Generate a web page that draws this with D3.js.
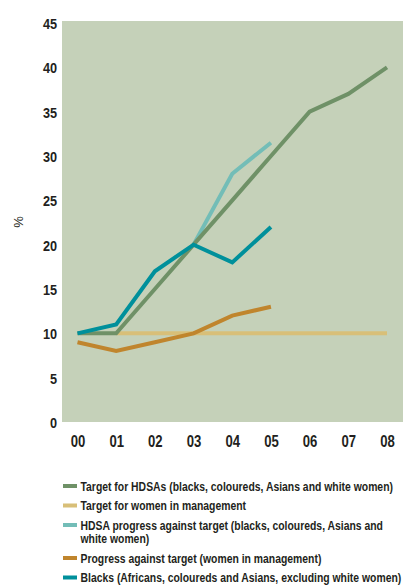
<!DOCTYPE html>
<html>
<head>
<meta charset="utf-8">
<script src="https://cdn.jsdelivr.net/npm/d3@7"></script>
<style>
  html, body { margin: 0; padding: 0; background: #fff; }
  svg text { font-family: "Liberation Sans", Arial, sans-serif; font-weight: bold; fill: #231f20; }
</style>
</head>
<body>
<svg id="chart" width="406" height="585"></svg>
<script>
// Years on the x axis
const years = ["00", "01", "02", "03", "04", "05", "06", "07", "08"];
const yTicks = [0, 5, 10, 15, 20, 25, 30, 35, 40, 45];

// Series values (%), null where a series has no value
const targetHDSA    = [10, 10, 15, 20, 25, 30, 35, 37, 40];
const targetWomen   = [null, 10, 10, 10, 10, 10, 10, 10, 10];
const progressHDSA  = [null, null, null, 20, 28, 31.5, null, null, null];
const progressWomen = [9, 8, 9, 10, 12, 13, null, null, null];
const blacks        = [10, 11, 17, 20, 18, 22, null, null, null];

const seriesNames = [
  "Target for HDSAs (blacks, coloureds, Asians and white women)",
  "Target for women in management",
  "HDSA progress against target (blacks, coloureds, Asians and|white women)",
  "Progress against target (women in management)",
  "Blacks (Africans, coloureds and Asians, excluding white women)"
];
const seriesColors = ["#6f9167", "#d8bf78", "#73bdb7", "#c0852d", "#00909b"];
const seriesValues = [targetHDSA, targetWomen, progressHDSA, progressWomen, blacks];
// drawing order: bottom to top
const drawOrder = [1, 2, 0, 3, 4];

// horizontal squeeze that gives the bold sans a condensed look
const squeeze = 0.82;
const legendSqueeze = 0.8;

const svg = d3.select("#chart");

const x = d3.scalePoint().domain(years).range([77.5, 387]);
const y = d3.scaleLinear().domain([0, 45]).range([422, 23]);

// plot background
svg.append("rect")
  .attr("x", 62).attr("y", 21)
  .attr("width", 341).attr("height", 401)
  .attr("fill", "#c5d1b9");

function condense(sel) {
  sel.each(function () {
    const t = d3.select(this);
    const x0 = +t.attr("x") || 0;
    t.attr("x", x0 / squeeze).attr("transform", `scale(${squeeze},1)`);
  });
}

// y axis labels
const yAxis = d3.axisLeft(y).tickValues(yTicks).tickSize(0).tickPadding(5);
svg.append("g").attr("transform", "translate(62,0)").call(yAxis)
  .attr("font-family", null).attr("font-size", null)
  .call(g => g.select(".domain").remove())
  .call(g => g.selectAll("text")
    .attr("font-size", 15.5).attr("dy", "0.36em")
    .call(condense));

// x axis labels
const xAxis = d3.axisBottom(x).tickSize(0).tickPadding(13.5);
svg.append("g").attr("transform", "translate(0,422)").call(xAxis)
  .attr("font-family", null).attr("font-size", null)
  .call(g => g.select(".domain").remove())
  .call(g => g.selectAll("text")
    .attr("font-size", 16).attr("dy", "0.71em")
    .call(condense));

// axis title
svg.append("text")
  .attr("transform", "translate(18,222) rotate(-90)")
  .attr("text-anchor", "middle")
  .attr("dy", "0.35em")
  .attr("font-size", 13)
  .style("font-weight", "normal")
  .text("%");

const line = d3.line()
  .defined(d => d.v != null)
  .x(d => x(d.year))
  .y(d => y(d.v));

drawOrder.forEach(i => {
  const data = years.map((yr, k) => ({ year: yr, v: seriesValues[i][k] }));
  svg.append("path")
    .datum(data)
    .attr("fill", "none")
    .attr("stroke", seriesColors[i])
    .attr("stroke-width", 4)
    .attr("stroke-linejoin", "miter")
    .attr("d", line);
});

// legend
const legendRows = [486, 505.5, 525, 558, 577.5];
const legend = svg.append("g");
seriesNames.forEach((name, i) => {
  const yy = legendRows[i];
  legend.append("rect")
    .attr("x", 63).attr("y", yy - 2)
    .attr("width", 14).attr("height", 4)
    .attr("fill", seriesColors[i]);
  name.split("|").forEach((part, j) => {
    legend.append("text")
      .attr("x", 80.5 / legendSqueeze).attr("y", yy + j * 13)
      .attr("transform", `scale(${legendSqueeze},1)`)
      .attr("dy", "0.36em")
      .attr("font-size", 13)
      .text(part);
  });
});
</script>
</body>
</html>
